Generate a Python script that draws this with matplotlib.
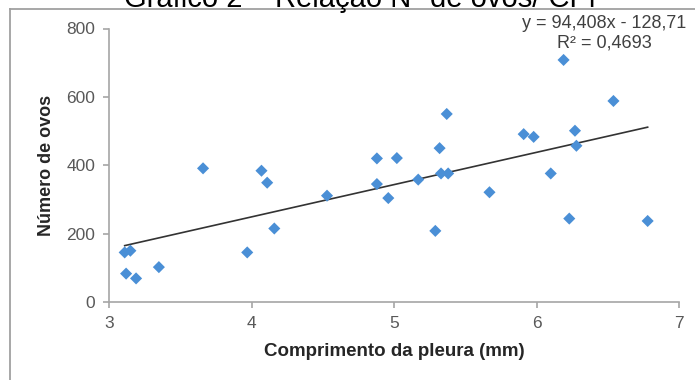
import numpy as np
import matplotlib
matplotlib.use("Agg")
import matplotlib.pyplot as plt
from matplotlib.lines import Line2D

plt.rcParams['font.family'] = ['Liberation Sans', 'DejaVu Sans']

# comprimento da pleura (mm) x numero de ovos
comprimento = [3.11, 3.15, 3.12, 3.19, 3.35, 3.66, 3.97, 4.07, 4.11, 4.16,
               4.53, 4.88, 4.88, 5.02, 4.96, 5.17, 5.32, 5.37, 5.33, 5.38,
               5.29, 5.67, 5.91, 5.98, 6.10, 6.19, 6.23, 6.27, 6.28, 6.54, 6.78]
ovos = [145, 150, 83, 69, 102, 391, 145, 384, 349, 215,
        311, 420, 345, 421, 304, 358, 450, 550, 376, 376,
        208, 321, 491, 483, 376, 708, 244, 501, 457, 588, 237]

# linha de tendencia (excel)
coef_a = 94.408
coef_b = -128.71
r2 = 0.4693

x_ticks = [3, 4, 5, 6, 7]
y_ticks = [0, 200, 400, 600, 800]

fig = plt.figure(figsize=(6.95, 3.80), dpi=100)
ax = fig.add_axes([109 / 695, 1 - 302 / 380, 570 / 695, 273.5 / 380])

ax.scatter(comprimento, ovos, marker='D', s=38, color='#4a8fd6',
           edgecolors='none', zorder=3)

xs = np.array([min(comprimento), max(comprimento)])
ax.plot(xs, coef_a * xs + coef_b, color='#333333', lw=1.2, zorder=2)

ax.set_xlim(x_ticks[0], x_ticks[-1])
ax.set_ylim(y_ticks[0], y_ticks[-1])
ax.set_xticks(x_ticks)
ax.set_yticks(y_ticks)

for side in ['top', 'right']:
    ax.spines[side].set_visible(False)
for side in ['left', 'bottom']:
    ax.spines[side].set_color('#a6a6a6')
    ax.spines[side].set_linewidth(1.2)
ax.tick_params(direction='out', length=4, width=1.2, color='#a6a6a6',
               labelsize=12.5, labelcolor='#595959', pad=6)

ax.set_xlabel('Comprimento da pleura (mm)', fontsize=13.5, fontweight='bold',
              color='#262626', labelpad=9)
ax.set_ylabel('Número de ovos', fontsize=13, fontweight='bold',
              color='#262626', labelpad=8)

eq = 'y = {:.3f}x - {:.2f}'.format(coef_a, -coef_b).replace('.', ',')
ax.text(604 / 695, 1 - 23 / 380, eq, transform=fig.transFigure,
        ha='center', va='center', fontsize=13, color='#404040')
ax.text(604 / 695, 1 - 43 / 380, 'R² = {:.4f}'.format(r2).replace('.', ','),
        transform=fig.transFigure, ha='center', va='center',
        fontsize=13, color='#404040')

# titulo cortado no topo e moldura do grafico
fig.text(360 / 695, 1 - 7 / 380, 'Gráfico 2 – Relação Nº de ovos/ CPl',
         ha='center', va='baseline', fontsize=21, color='black')
fig.add_artist(Line2D([10 / 695, 10 / 695], [0, 1 - 9.3 / 380],
                      transform=fig.transFigure, color='#a0a0a0', lw=1.3))
fig.add_artist(Line2D([10 / 695, 1], [1 - 9.3 / 380, 1 - 9.3 / 380],
                      transform=fig.transFigure, color='#a0a0a0', lw=1.3))

fig.savefig('out.png', dpi=100)
